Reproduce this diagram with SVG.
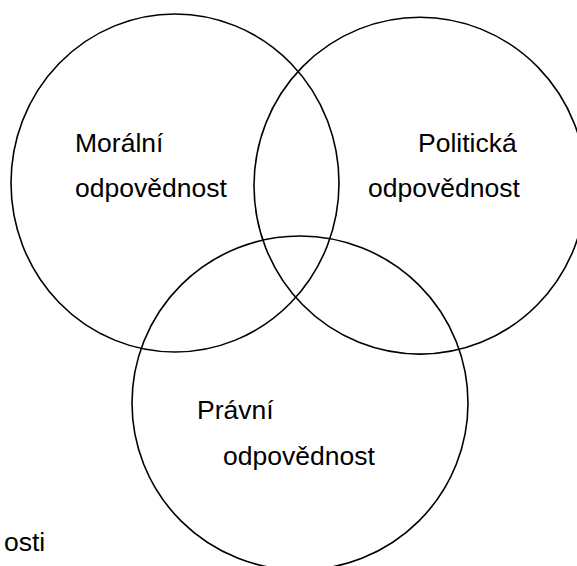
<svg xmlns="http://www.w3.org/2000/svg" width="577" height="566" viewBox="0 0 577 566">
<style>
.c{fill:none;stroke:#000;stroke-width:1.6}
.t{font-family:"Liberation Sans",Arial,sans-serif;font-size:26.5px;fill:#000}
</style>
<rect width="577" height="566" fill="#fff"/>
<g id="moral">
<ellipse class="c" cx="175" cy="183" rx="164" ry="169"/>
<text class="t" x="75" y="152">Morální</text>
<text class="t" x="75" y="197">odpovědnost</text>
</g>
<g id="politicka">
<ellipse class="c" cx="420" cy="185.7" rx="166" ry="168.4"/>
<text class="t" x="418" y="152">Politická</text>
<text class="t" x="368" y="197">odpovědnost</text>
</g>
<g id="pravni">
<ellipse class="c" cx="300" cy="403" rx="168" ry="167"/>
<text class="t" x="197" y="419">Právní</text>
<text class="t" x="223" y="465">odpovědnost</text>
</g>
<g id="connectors"></g>
<text class="t" x="4" y="551">osti</text>
</svg>
